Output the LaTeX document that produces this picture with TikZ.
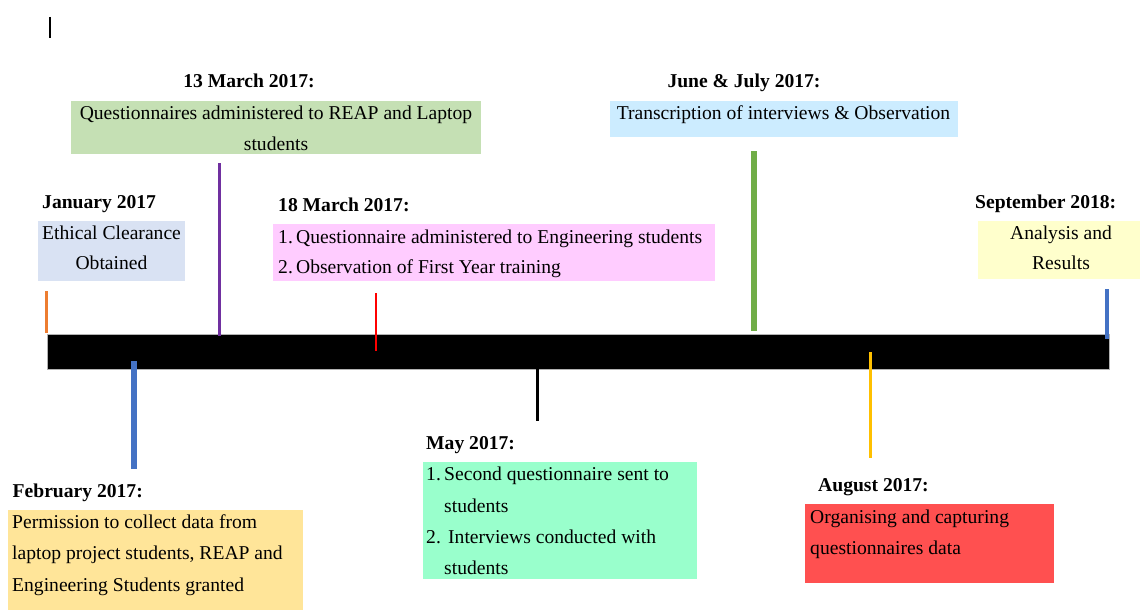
\documentclass[tikz,border=0pt]{standalone}
\usepackage{fontspec}
\setmainfont{Liberation Serif}
\newcommand{\fsz}{\fontsize{19.6}{31}\selectfont}
\definecolor{cJan}{HTML}{D9E2F3}
\definecolor{cMarA}{HTML}{C5E0B4}
\definecolor{cMarB}{HTML}{FFCCFF}
\definecolor{cJune}{HTML}{CCECFF}
\definecolor{cSept}{HTML}{FFFFCC}
\definecolor{cFeb}{HTML}{FFE599}
\definecolor{cMay}{HTML}{99FFCC}
\definecolor{cAug}{HTML}{FF5050}
\definecolor{tOrange}{HTML}{ED7D31}
\definecolor{tPurple}{HTML}{7030A0}
\definecolor{tRed}{HTML}{FF0000}
\definecolor{tBlue}{HTML}{4472C4}
\definecolor{tGreen}{HTML}{70AD47}
\definecolor{tGold}{HTML}{FFC000}
\begin{document}
\begin{tikzpicture}[x=1pt,y=-1pt,
  lbl/.style={font=\fsz\bfseries, inner sep=0pt, anchor=base west},
  lblc/.style={font=\fsz\bfseries, inner sep=0pt, anchor=base},
  txt/.style={font=\fsz, inner sep=0pt, anchor=base west},
  txtc/.style={font=\fsz, inner sep=0pt, anchor=base},
  box/.style={rectangle, draw=none, inner sep=0pt, anchor=north west},
  tick/.style={line width=#1}]
\useasboundingbox (0,0) rectangle (1140,610);
\fill[white] (0,0) rectangle (1140,610);

% cursor mark
\coordinate (cur1) at (50,17);
\coordinate (cur2) at (50,38);
\draw[line width=1.5pt, black] (cur1) -- (cur2);

% timeline bar
\node[box, fill=black, draw=gray!60, line width=0.8pt, minimum width=1062.5pt, minimum height=35pt] (bar) at (46.5,334) {};

% boxes
\node[box, fill=cMarA, minimum width=410pt, minimum height=53pt] (bMarA) at (71,101) {};
\node[box, fill=cJan, minimum width=147.5pt, minimum height=60pt] (bJan) at (37.5,221) {};
\node[box, fill=cMarB, minimum width=442pt, minimum height=57pt] (bMarB) at (273,224) {};
\node[box, fill=cJune, minimum width=348pt, minimum height=36pt] (bJune) at (610,101) {};
\node[box, fill=cSept, minimum width=162pt, minimum height=58pt] (bSept) at (978,221) {};
\node[box, fill=cFeb, minimum width=295pt, minimum height=100pt] (bFeb) at (8,510) {};
\node[box, fill=cMay, minimum width=274.5pt, minimum height=117pt] (bMay) at (422.5,462) {};
\node[box, fill=cAug, minimum width=249pt, minimum height=79pt] (bAug) at (805,504) {};

% ticks
\coordinate (oA) at (46.5,291); \coordinate (oB) at (46.5,333);
\coordinate (pA) at (219.5,163); \coordinate (pB) at (219.5,336);
\coordinate (rA) at (376,293); \coordinate (rB) at (376,351);
\coordinate (bA) at (134,361); \coordinate (bB) at (134,469);
\coordinate (kA) at (537.5,369); \coordinate (kB) at (537.5,421);
\coordinate (gA) at (754,151); \coordinate (gB) at (754,331);
\coordinate (yA) at (870,352); \coordinate (yB) at (870,458);
\coordinate (uA) at (1107,289); \coordinate (uB) at (1107,339);
\draw[tick=3pt, tOrange] (oA) -- (oB);
\draw[tick=3pt, tPurple] (pA) -- (pB);
\draw[tick=2.5pt, tRed] (rA) -- (rB);
\draw[tick=6pt, tBlue] (bA) -- (bB);
\draw[tick=2.5pt, black] (kA) -- (kB);
\draw[tick=6pt, tGreen] (gA) -- (gB);
\draw[tick=3pt, tGold] (yA) -- (yB);
\draw[tick=3.5pt, tBlue] (uA) -- (uB);

% labels
\node[lblc] (lMarA) at (249,88) {13 March 2017:};
\node[lbl] (lJan) at (42,208) {January 2017};
\node[lbl] (lMarB) at (278,211) {18 March 2017:};
\node[lblc] (lJune) at (744,88) {June \& July 2017:};
\node[lbl] (lSept) at (975,208) {September 2018:};
\node[lbl] (lFeb) at (12.5,497) {February 2017:};
\node[lbl] (lMay) at (426,449) {May 2017:};
\node[lbl] (lAug) at (818,491) {August 2017:};

% box texts
\node[txtc] (tMarA1) at (276,119) {Questionnaires administered to REAP and Laptop};
\node[txtc] (tMarA2) at (276,150) {students};
\node[txtc] (tJan1) at (111.5,239) {Ethical Clearance};
\node[txtc] (tJan2) at (111.5,269) {Obtained};
\node[txt] (tMarB1) at (278,243) {1.\,Questionnaire administered to Engineering students};
\node[txt] (tMarB2) at (278,273) {2.\,Observation of First Year training};
\node[txtc] (tJune) at (783.5,119) {Transcription of interviews \& Observation};
\node[txtc] (tSept1) at (1061,239) {Analysis and};
\node[txtc] (tSept2) at (1061,269) {Results};
\node[txt] (tFeb1) at (12,528) {Permission to collect data from};
\node[txt] (tFeb2) at (12,559) {laptop project students, REAP and};
\node[txt] (tFeb3) at (12,591) {Engineering Students granted};
\node[txt] (tMay1n) at (426,480) {1.};
\node[txt] (tMay1) at (444,480) {Second questionnaire sent to};
\node[txt] (tMay1b) at (444,512) {students};
\node[txt] (tMay2n) at (426,543) {2.};
\node[txt] (tMay2) at (448,543) {Interviews conducted with};
\node[txt] (tMay2b) at (444,574) {students};
\node[txt] (tAug1) at (810,523) {Organising and capturing};
\node[txt] (tAug2) at (810,554) {questionnaires data};
\end{tikzpicture}
\end{document}
